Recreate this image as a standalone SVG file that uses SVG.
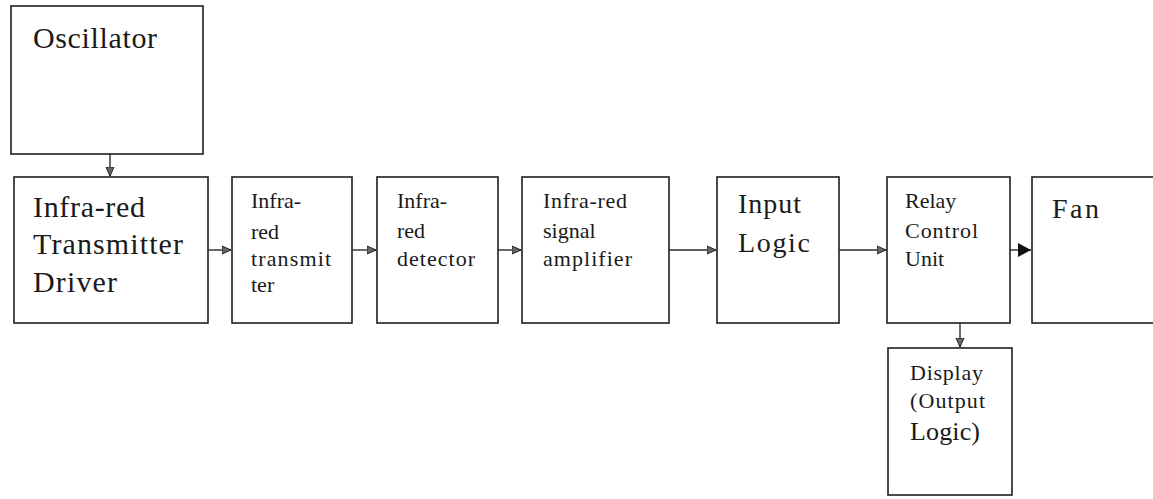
<svg xmlns="http://www.w3.org/2000/svg" width="1153" height="499" viewBox="0 0 1153 499">
<style>
.box{fill:#fff;stroke:#1e1e1e;stroke-width:1.6}
.t{font-family:"Liberation Serif","Times New Roman",serif;fill:#1a1a1a}
.con{stroke:#2a2a2a;stroke-width:1.4;fill:none}
</style>
<defs>
<marker id="ah" markerUnits="userSpaceOnUse" markerWidth="10" markerHeight="10" refX="9" refY="5" orient="auto">
<path d="M0,1 L9,5 L0,9 Z" fill="#666" stroke="#222" stroke-width="1"/>
</marker>
<marker id="ahb" markerUnits="userSpaceOnUse" markerWidth="14" markerHeight="14" refX="13" refY="7" orient="auto">
<path d="M0,0 L13,7 L0,14 Z" fill="#111"/>
</marker>
</defs>
<rect width="1153" height="499" fill="#fff"/>
<g id="oscillator"><rect class="box" x="11" y="6" width="192" height="148"/><text class="t" x="33" y="48" font-size="30" textLength="124">Oscillator</text></g>
<g id="driver"><rect class="box" x="14" y="177" width="194" height="146"/>
<text class="t" x="33" y="217" font-size="30" textLength="112">Infra-red</text>
<text class="t" x="33" y="254" font-size="30" textLength="150">Transmitter</text>
<text class="t" x="33" y="292" font-size="30" textLength="84">Driver</text></g>
<g id="transmitter"><rect class="box" x="232" y="177" width="120" height="146"/>
<text class="t" x="251" y="208" font-size="22">Infra-</text>
<text class="t" x="251" y="239" font-size="22">red</text>
<text class="t" x="251" y="266" font-size="22" textLength="80">transmit</text>
<text class="t" x="251" y="292" font-size="22">ter</text></g>
<g id="detector"><rect class="box" x="377" y="177" width="121" height="146"/>
<text class="t" x="397" y="208" font-size="22">Infra-</text>
<text class="t" x="397" y="238" font-size="22">red</text>
<text class="t" x="397" y="266" font-size="22" textLength="78">detector</text></g>
<g id="amplifier"><rect class="box" x="522" y="177" width="147" height="146"/>
<text class="t" x="543" y="208" font-size="22" textLength="84">Infra-red</text>
<text class="t" x="543" y="238" font-size="22">signal</text>
<text class="t" x="543" y="266" font-size="22" textLength="89">amplifier</text></g>
<g id="inputlogic"><rect class="box" x="717" y="177" width="122" height="146"/>
<text class="t" x="738" y="213" font-size="28" textLength="63">Input</text>
<text class="t" x="738" y="252" font-size="28" textLength="72">Logic</text></g>
<g id="relay"><rect class="box" x="887" y="177" width="123" height="146"/>
<text class="t" x="905" y="208" font-size="22">Relay</text>
<text class="t" x="905" y="238" font-size="22" textLength="73">Control</text>
<text class="t" x="905" y="266" font-size="22">Unit</text></g>
<g id="fan"><rect class="box" x="1032" y="177" width="125" height="146"/>
<text class="t" x="1052" y="218" font-size="28" textLength="47">Fan</text></g>
<g id="display"><rect class="box" x="888" y="348" width="124" height="147"/>
<text class="t" x="910" y="380" font-size="22" textLength="73">Display</text>
<text class="t" x="910" y="408" font-size="22" textLength="75">(Output</text>
<text class="t" x="910" y="440" font-size="26" textLength="70">Logic)</text></g>
<g id="connectors">
<line class="con" x1="110" y1="154" x2="110" y2="176" marker-end="url(#ah)"/>
<line class="con" x1="208" y1="250" x2="231" y2="250" marker-end="url(#ah)"/>
<line class="con" x1="352" y1="250" x2="376" y2="250" marker-end="url(#ah)"/>
<line class="con" x1="498" y1="250" x2="521" y2="250" marker-end="url(#ah)"/>
<line class="con" x1="669" y1="250" x2="716" y2="250" marker-end="url(#ah)"/>
<line class="con" x1="839" y1="250" x2="886" y2="250" marker-end="url(#ah)"/>
<line class="con" x1="1010" y1="250" x2="1031" y2="250" marker-end="url(#ahb)"/>
<line class="con" x1="960" y1="323" x2="960" y2="347" marker-end="url(#ah)"/>
</g>
</svg>
